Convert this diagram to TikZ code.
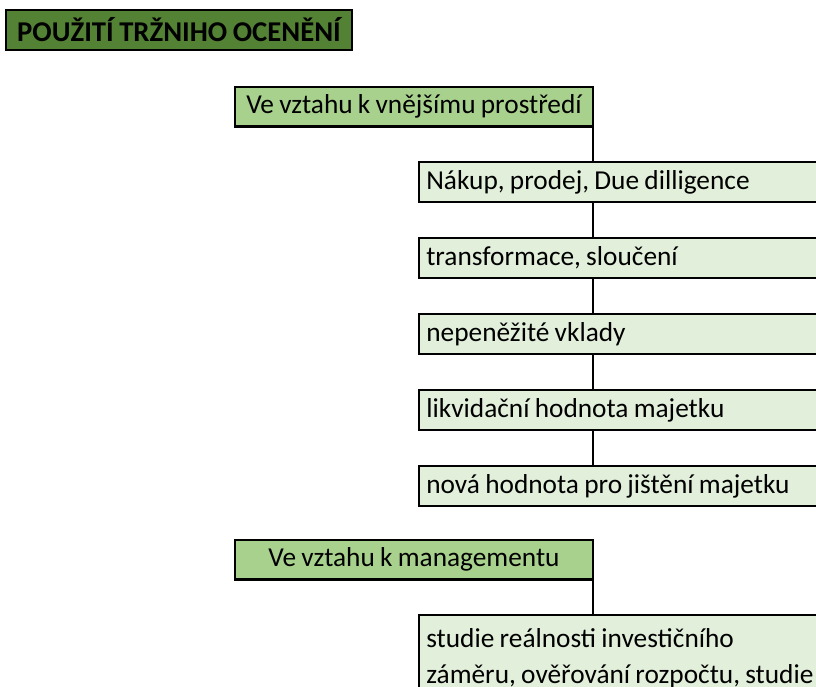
\documentclass[tikz,border=0pt]{standalone}
\usepackage{fontspec}
\setmainfont{Carlito}[WordSpace=0.85]
\usetikzlibrary{positioning}
\definecolor{ocdark}{RGB}{84,130,53}
\definecolor{ocmid}{RGB}{169,209,142}
\definecolor{ocpale}{RGB}{226,239,218}

\begin{document}
\begin{tikzpicture}[x=0.75pt,y=-0.75pt,node distance=27pt,
      box/.style={draw,line width=2.2pt,outer sep=0pt,font=\fontsize{20.5}{27}\selectfont},
      ttl/.style={box,fill=ocdark,font=\fontsize{21.5}{24}\selectfont\bfseries,minimum width=259.5pt,minimum height=30pt,inner xsep=2pt},
      hdr/.style={box,fill=ocmid,minimum width=268.5pt,minimum height=29.5pt,inner xsep=2pt},
      item/.style={box,fill=ocpale,text width=400pt,align=left,inner xsep=5.5pt,minimum height=30pt,
        execute at begin node={\spaceskip=0pt\xspaceskip=0pt\relax}},
      link/.style={draw,line width=1.5pt}]
    \useasboundingbox (0,0) rectangle (816,686);
    \clip (0,0) rectangle (816,686);
    \node[ttl,anchor=north west] (title) at (6,10) {POUŽITÍ TRŽNIHO OCENĚNÍ};
    % vnejsi prostredi
    \node[hdr,anchor=north west] (hdr1) at (235,87) {Ve vztahu k vnějšímu prostředí};
    \node[item,anchor=north west] (c1) at (419,162) {Nákup, prodej, Due dilligence};
    \node[item,below=of c1] (c2) {transformace, sloučení};
    \node[item,below=of c2] (c3) {nepeněžité vklady};
    \node[item,below=of c3] (c4) {likvidační hodnota majetku};
    \node[item,below=of c4] (c5) {nová hodnota pro jištění majetku};
    \foreach \a/\b in {hdr1/c1,c1/c2,c2/c3,c3/c4,c4/c5}
      \draw[link] (\a.south -| hdr1.east) -- (\b.north -| hdr1.east);
    % management
    \node[hdr,anchor=north west] (hdr2) at (235,540) {Ve vztahu k managementu};
    \node[item,anchor=north west,inner ysep=10pt,minimum height=0pt] (c6) at (419,615)
      {studie reálnosti investičního\\záměru, ověřování rozpočtu, studie};
    \draw[link] (hdr2.south east) -- (c6.north -| hdr2.east);
  \end{tikzpicture}
\end{document}
